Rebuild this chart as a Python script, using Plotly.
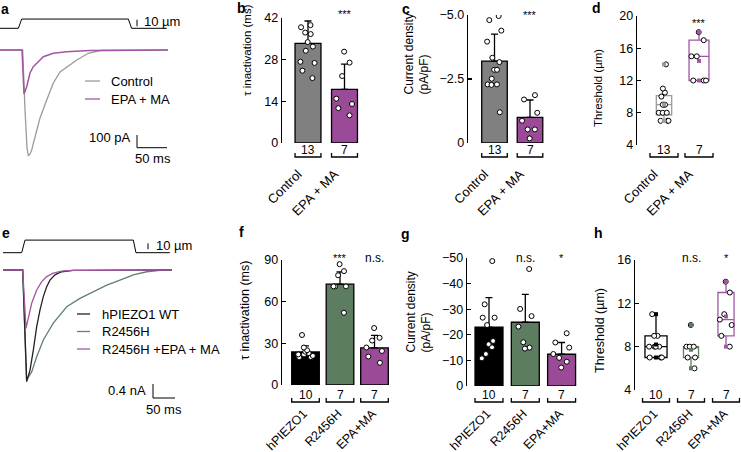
import numpy as np
import plotly.graph_objects as go

W, H = 741, 452
FONT = "Liberation Sans"

# ---------------- data ----------------
# Panel a: stimulus (um) and currents (pA) vs time (ms)
a_stim_t = [0, 30.6, 36.1, 213.9, 219.4, 278]
a_stim_um = [0, 0, 14, 14, 0, 0]
a_ctrl_t = [0, 37.8, 41.7, 45.0, 47.2, 50.0, 52.8, 58.3, 66.7, 77.8, 88.9, 100, 111, 128, 147, 167, 280]
a_ctrl_pA = [0, 0, -472, -771, -834, -818, -787, -685, -535, -394, -260, -173, -134, -79, -26, -4, 0]
a_epa_t = [0, 36.7, 40.0, 44.5, 50.0, 55.5, 63.8, 72.2, 88.9, 111, 150, 280]
a_epa_pA = [0, 0, -346, -289, -181, -131, -92, -53, -26, -13, -4, 0]
a_names = ["Control", "EPA + MA"]

# Panel e: stimulus (um) and currents (nA) vs time (ms)
e_stim_t = [6.8, 49.3, 56.8, 303, 309, 386]
e_stim_um = [0, 0, 21, 21, 0, 0]
e_wt_t = [6.8, 51.6, 60.7, 68.2, 75.7, 83.4, 90.9, 98.4, 106.1, 113.6, 125, 140.2, 166, 391]
e_wt_nA = [0, 0, -3.19, -2.86, -2.29, -1.62, -1.14, -0.76, -0.48, -0.29, -0.14, -0.05, -0.01, 0]
e_rh_t = [6.8, 51.6, 60.2, 72, 83.4, 98.4, 121.1, 151.6, 181.8, 212, 242.5, 272.7, 303, 333.4, 363.6, 391]
e_rh_nA = [0, 0, -3.14, -2.91, -2.48, -2.0, -1.52, -1.05, -0.81, -0.62, -0.43, -0.29, -0.14, -0.05, -0.01, 0]
e_epa_t = [6.8, 51.6, 59.1, 64.3, 72, 83.4, 94.8, 106.1, 121.1, 140.2, 166, 391]
e_epa_nA = [0, 0, -1.67, -1.38, -0.95, -0.57, -0.33, -0.19, -0.09, -0.03, -0.01, 0]
e_names = ["hPIEZO1 WT", "R2456H", "R2456H +EPA + MA"]

# Panel b: tau inactivation (ms)
b_cats = ["Control", "EPA + MA"]
b_mean = [33.5, 18.0]
b_sd = [7.5, 8.5]
b_n = [13, 7]
b_pts = [[44.7, 44.5, 39.6, 38.9, 37.1, 36.6, 33.9, 32.4, 31.0, 27.3, 26.9, 24.3, 21.8],
         [30.7, 27.0, 22.5, 14.9, 11.7, 13.1, 9.3]]
b_sig = ["", "***"]

# Panel c: current density (pA/pF)
c_mean = [-3.2, -1.0]
c_sd = [1.05, 0.68]
c_n = [13, 7]
c_pts = [[-4.96, -4.8, -4.39, -3.96, -3.33, -3.16, -2.86, -2.86, -2.51, -2.27, -2.29, -2.29, -1.2],
         [-1.7, -1.87, -1.18, -0.87, -0.53, -0.53, -0.18]]
c_sig = ["", "***"]

# Panel d: threshold (um)
d_n = [13, 7]
d_pts = [[14, 11, 10.5, 10, 9, 9, 9, 8, 8, 8, 7, 7, 7],
         [18, 17, 15, 15, 12, 12, 12]]
d_sig = ["", "***"]

# Panel f: tau inactivation (ms)
f_cats = ["hPIEZO1", "R2456H", "EPA+MA"]
f_mean = [23.8, 72.7, 26.8]
f_sd = [4.3, 8.7, 9.0]
f_n = [10, 7, 7]
f_pts = [[36, 27, 25, 24, 23, 22, 22, 21, 20, 20],
         [87, 82, 79, 71, 71, 71, 52],
         [41, 34, 32, 27, 24.5, 20.5, 16]]
f_sig = ["", "***", "n.s."]

# Panel g: current density (pA/pF)
g_mean = [-23.0, -24.9, -12.4]
g_sd = [11.5, 10.9, 4.6]
g_n = [10, 7, 7]
g_pts = [[-48.8, -31.9, -26.7, -26.7, -23.8, -17.6, -16.3, -15.1, -12.5, -10.8],
         [-45.7, -30.1, -27.3, -23.2, -17.1, -14.6, -15.0],
         [-20.6, -17.0, -15.0, -12.5, -11.0, -9.5, -7.2]]
g_sig = ["", "n.s.", "*"]

# Panel h: threshold (um)
h_n = [10, 7, 7]
h_pts = [[11, 9, 9, 8, 8, 8, 8, 7, 7, 7],
         [10, 8, 8, 8, 7, 7, 6],
         [14, 13, 11, 10.5, 10, 9, 8]]
h_sig = ["", "n.s.", "*"]

# ---------------- styles ----------------
GRAY_BAR = "#808080"
GRAY_TR = "#9b9b9b"
PURPLE = "#9b4a98"
PURPLE_TR = "#a256a2"
GREEN = "#5c7d5f"
GREEN_TR = "#62826a"
BLACK = "#000000"


def fx(p):
    return p / W


def fy(p):
    return 1 - p / H


def xdom(a, b):
    return [a / W, b / W]


def ydom(top, bottom):
    return [1 - bottom / H, 1 - top / H]


fig = go.Figure()
layout = dict(width=W, height=H, margin=dict(l=0, r=0, t=0, b=0, autoexpand=False),
              paper_bgcolor="white", plot_bgcolor="white", showlegend=False,
              font=dict(family=FONT, size=12.5, color="black"),
              barmode="overlay", boxmode="overlay")
annotations = []
shapes = []


def hidden_axis(dom, rng, anchor):
    return dict(domain=dom, range=rng, autorange=False, anchor=anchor, showline=False, showticklabels=False,
                ticks="", showgrid=False, zeroline=False, fixedrange=True)


def text(x, y, s, size=13, xa="left", ya="middle", bold=False, angle=0, xref="paper", yref="paper", align="center"):
    annotations.append(dict(x=x, y=y, xref=xref, yref=yref, text=("<b>%s</b>" % s) if bold else s,
                            showarrow=False, xanchor=xa, yanchor=ya, textangle=angle, align=align,
                            font=dict(family=FONT, size=size, color="black")))


# ---------- Panel a (traces): x / y (stimulus), y2 (current) ----------
a_ms_px = 50 / 30.0
a_pA_px = 100 / 12.7
a_um_px = 10 / 6.6
layout["xaxis"] = hidden_axis(xdom(0, 172), [0, 172 * a_ms_px], "y")
layout["yaxis"] = hidden_axis(ydom(12, 32), [-(32 - 28.3) * a_um_px, (28.3 - 12) * a_um_px], "x")
layout["yaxis2"] = hidden_axis(ydom(40, 170), [-(170 - 50) * a_pA_px, (50 - 40) * a_pA_px], "x")
fig.add_trace(go.Scatter(x=a_stim_t, y=a_stim_um, mode="lines", line=dict(color="black", width=1),
                         xaxis="x", yaxis="y"))
fig.add_trace(go.Scatter(x=a_ctrl_t, y=a_ctrl_pA, mode="lines", line=dict(color=GRAY_TR, width=1.3),
                         xaxis="x", yaxis="y2"))
fig.add_trace(go.Scatter(x=a_epa_t, y=a_epa_pA, mode="lines", line=dict(color=PURPLE_TR, width=1.5),
                         xaxis="x", yaxis="y2"))
sb_t = 137 * a_ms_px
fig.add_trace(go.Scatter(x=[sb_t, sb_t], y=[3, 13], mode="lines", line=dict(color="black", width=1),
                         xaxis="x", yaxis="y"))
y_top = -(135 - 50) * a_pA_px
fig.add_trace(go.Scatter(x=[sb_t, sb_t, sb_t + 50], y=[y_top, y_top - 100, y_top - 100], mode="lines",
                         line=dict(color="black", width=1), xaxis="x", yaxis="y2"))
text(fx(142), fy(22), "10 µm")
text(fx(133), fy(138), "100 pA", xa="right")
text(fx(153), fy(158), "50 ms", xa="center")
for i, (nm, col) in enumerate(zip(a_names, [GRAY_TR, PURPLE_TR])):
    yy = 81 + 18 * i
    shapes.append(dict(type="line", xref="paper", yref="paper", x0=fx(85), x1=fx(100), y0=fy(yy), y1=fy(yy),
                       line=dict(color=col, width=1.3)))
    text(fx(109), fy(yy), nm)

# ---------- Panel e (traces): x2 / y3 (stimulus), y4 (current) ----------
e_ms_px = 50 / 22.0
e_nA_px = 0.4 / 14.0
e_um_px = 10 / 6.0
layout["xaxis2"] = hidden_axis(xdom(0, 182), [0, 182 * e_ms_px], "y3")
layout["yaxis3"] = hidden_axis(ydom(233, 258), [-(258 - 252.7) * e_um_px, (252.7 - 233) * e_um_px], "x2")
layout["yaxis4"] = hidden_axis(ydom(262, 402), [-(402 - 270) * e_nA_px, (270 - 262) * e_nA_px], "x2")
fig.add_trace(go.Scatter(x=e_stim_t, y=e_stim_um, mode="lines", line=dict(color="black", width=1),
                         xaxis="x2", yaxis="y3"))
fig.add_trace(go.Scatter(x=e_rh_t, y=e_rh_nA, mode="lines", line=dict(color=GREEN_TR, width=1.3),
                         xaxis="x2", yaxis="y4"))
fig.add_trace(go.Scatter(x=e_wt_t, y=e_wt_nA, mode="lines", line=dict(color="#222222", width=1.3),
                         xaxis="x2", yaxis="y4"))
fig.add_trace(go.Scatter(x=e_epa_t, y=e_epa_nA, mode="lines", line=dict(color=PURPLE_TR, width=1.3),
                         xaxis="x2", yaxis="y4"))
sb_t = 148 * e_ms_px
fig.add_trace(go.Scatter(x=[sb_t, sb_t], y=[5.7, 15.7], mode="lines", line=dict(color="black", width=1),
                         xaxis="x2", yaxis="y3"))
sb_t = 153 * e_ms_px
y_top = -(384 - 270) * e_nA_px
fig.add_trace(go.Scatter(x=[sb_t, sb_t, sb_t + 50], y=[y_top, y_top - 0.4, y_top - 0.4], mode="lines",
                         line=dict(color="black", width=1), xaxis="x2", yaxis="y4"))
text(fx(154), fy(246), "10 µm")
text(fx(148), fy(390), "0.4 nA", xa="right")
text(fx(164), fy(409), "50 ms", xa="center")
for i, (nm, col) in enumerate(zip(e_names, ["#222222", GREEN_TR, PURPLE_TR])):
    yy = 314 + 17.5 * i
    shapes.append(dict(type="line", xref="paper", yref="paper", x0=fx(77), x1=fx(90), y0=fy(yy), y1=fy(yy),
                       line=dict(color=col, width=1.3)))
    text(fx(100), fy(yy), nm)


# ---------- bar / box panels ----------
def setup_axes(k, axis_px, right_px, top_px, bot_px, c0_px, sp_px, yrange, tickvals, ticktext, cats,
               label_pos_px, catsize, shift):
    xa, ya = "xaxis%d" % k, "yaxis%d" % k
    lo = (axis_px - c0_px) / sp_px
    hi = (right_px - c0_px) / sp_px
    layout[xa] = dict(domain=xdom(axis_px, right_px), range=[lo, hi], autorange=False, anchor="free",
                      position=fy(label_pos_px), showline=False, showgrid=False, zeroline=False, ticks="",
                      tickangle=-45, tickvals=list(range(len(cats))), ticktext=cats, ticklabelshift=shift,
                      tickfont=dict(family=FONT, size=catsize), fixedrange=True)
    layout[ya] = dict(domain=ydom(top_px, bot_px), range=yrange, autorange=False, anchor="x%d" % k,
                      showline=True, linecolor="black", linewidth=1.3, ticks="inside", ticklen=4,
                      tickwidth=1.3, tickcolor="black", tickvals=tickvals, ticktext=ticktext, showgrid=False,
                      zeroline=False, tickfont=dict(family=FONT, size=12.5), fixedrange=True)


def brackets(k, n_list, width, yb_px, num_px):
    for i, n in enumerate(n_list):
        x0, x1 = i - width / 2, i + width / 2
        yb, yt = fy(yb_px), fy(yb_px - 4)
        shapes.append(dict(type="path", xref="x%d" % k, yref="paper",
                           path="M %f,%f L %f,%f L %f,%f L %f,%f" % (x0, yt, x0, yb, x1, yb, x1, yt),
                           line=dict(color="black", width=1.3)))
        text(i, fy(num_px), str(n), size=12, xa="center", xref="x%d" % k)


def sig(k, labels, y_px):
    for i, s in enumerate(labels):
        if s:
            text(i, fy(y_px), s, size=12 if s == "n.s." else 11, xa="center", xref="x%d" % k)


def bar_panel(k, means, sds, pts_list, colors, width, negative=False):
    for i, (m, s, pts, col) in enumerate(zip(means, sds, pts_list, colors)):
        err = dict(type="data", symmetric=False, array=[0 if negative else s],
                   arrayminus=[s if negative else 0], thickness=1.3, width=3.5, color="black")
        fig.add_trace(go.Bar(x=[i], y=[m], width=width, marker=dict(color=col, line=dict(color="black", width=1.3)),
                             error_y=err, xaxis="x%d" % k, yaxis="y%d" % k))
        fig.add_trace(go.Box(x=[i] * len(pts), y=pts, boxpoints="all", jitter=0.75, pointpos=0, width=width,
                             fillcolor="rgba(0,0,0,0)", line=dict(width=0, color="rgba(0,0,0,0)"),
                             whiskerwidth=0,
                             marker=dict(size=5, color="white", line=dict(color="black", width=1)),
                             xaxis="x%d" % k, yaxis="y%d" % k))


def box_panel(k, pts_list, colors, widths, methods):
    for i, (pts, col, w, qm) in enumerate(zip(pts_list, colors, widths, methods)):
        fig.add_trace(go.Box(x=[i] * len(pts), y=pts, boxpoints="all", jitter=0.9, pointpos=0, width=w,
                             quartilemethod=qm, fillcolor="rgba(0,0,0,0)", line=dict(width=1.3, color=col),
                             whiskerwidth=0,
                             marker=dict(size=5, color="white", line=dict(color="black", width=1)),
                             xaxis="x%d" % k, yaxis="y%d" % k))
        arr = np.array(pts, dtype=float)
        fig.add_trace(go.Scatter(x=[i, i, i], y=[arr.mean(), arr.min(), arr.max()], mode="markers",
                                 marker=dict(symbol="square", size=4, color=col),
                                 xaxis="x%d" % k, yaxis="y%d" % k))


TOP_LAB, BOT_LAB = 163, 403
TOP_SHIFT, BOT_SHIFT = -10, -2

# b  (axes 5)
setup_axes(5, 282, 366, 18, 143, 308, 36.5, [0, 42], [0, 14, 28, 42], ["0", "14", "28", "42"], b_cats,
           TOP_LAB, 13, TOP_SHIFT)
bar_panel(5, b_mean, b_sd, b_pts, [GRAY_BAR, PURPLE], 0.71)
brackets(5, b_n, 0.71, 157, 150)
sig(5, b_sig, 14)
text(fx(247), fy(50), "τ inactivation (ms)", size=11.5, xa="center", ya="middle", angle=-90)

# c  (axes 6)
setup_axes(6, 468, 552, 15, 143, 494.5, 35.5, [0, -5], [0, -2.5, -5], ["0", "−2.5", "−5.0"], b_cats,
           TOP_LAB, 13, TOP_SHIFT)
bar_panel(6, c_mean, c_sd, c_pts, [GRAY_BAR, PURPLE], 0.72, negative=True)
brackets(6, c_n, 0.72, 157, 150)
sig(6, c_sig, 15)
text(fx(417), fy(97), "Current density<br>(pA/pF)", size=12, xa="center", ya="bottom", angle=-90, align="left")

# d  (axes 7)
setup_axes(7, 637, 741, 16, 145, 664, 35, [4, 20], [4, 8, 12, 16, 20], ["4", "8", "12", "16", "20"], b_cats,
           TOP_LAB, 13, TOP_SHIFT)
box_panel(7, d_pts, [GRAY_TR, PURPLE_TR], [0.44, 0.57], ["linear", "exclusive"])
brackets(7, d_n, 0.8, 157, 150)
sig(7, d_sig, 23)
text(fx(598), fy(88), "Threshold (µm)", size=11.5, xa="center", ya="middle", angle=-90)

# f  (axes 8)
setup_axes(8, 282, 395, 260, 385, 305.5, 34.5, [0, 90], [0, 30, 60, 90], ["0", "30", "60", "90"], f_cats,
           BOT_LAB, 12.5, BOT_SHIFT)
bar_panel(8, f_mean, f_sd, f_pts, [BLACK, GREEN, PURPLE], 0.8)
brackets(8, f_n, 0.8, 402, 395)
sig(8, f_sig, 258)
text(fx(245), fy(311), "τ inactivation (ms)", size=12.5, xa="center", ya="middle", angle=-90)

# g  (axes 9)
setup_axes(9, 467, 585, 258, 386, 489, 36.3, [0, -50], [0, -10, -20, -30, -40, -50],
           ["0", "−10", "−20", "−30", "−40", "−50"], f_cats, BOT_LAB, 12.5, BOT_SHIFT)
bar_panel(9, g_mean, g_sd, g_pts, [BLACK, GREEN, PURPLE], 0.77, negative=True)
brackets(9, g_n, 0.77, 402, 395)
sig(9, g_sig, 258)
text(fx(418), fy(355), "Current density<br>(pA/pF)", size=12, xa="center", ya="bottom", angle=-90, align="left")

# h  (axes 10)
setup_axes(10, 635, 741, 260, 390, 656, 35, [4, 16], [4, 8, 12, 16], ["4", "8", "12", "16"], f_cats,
           BOT_LAB, 12.5, BOT_SHIFT)
box_panel(10, h_pts, [BLACK, GREEN, PURPLE_TR], [0.63, 0.43, 0.46], ["exclusive", "exclusive", "exclusive"])
brackets(10, h_n, 0.77, 402, 395)
sig(10, h_sig, 258)
text(fx(600), fy(331), "Threshold (µm)", size=12.5, xa="center", ya="middle", angle=-90)

# panel letters
for s, x, y in [("a", 5, 9), ("b", 242, 8), ("c", 406, 9), ("d", 596, 8),
                ("e", 6, 233), ("f", 241, 232), ("g", 405, 234), ("h", 598, 233)]:
    text(fx(x), fy(y), s, size=14, xa="center", bold=True)

layout["annotations"] = annotations
layout["shapes"] = shapes
fig.update_layout(**layout)
fig.write_html("out.html", config={"displayModeBar": False, "staticPlot": True},
               post_script="document.body.style.margin='0px';document.body.style.padding='0px';")
